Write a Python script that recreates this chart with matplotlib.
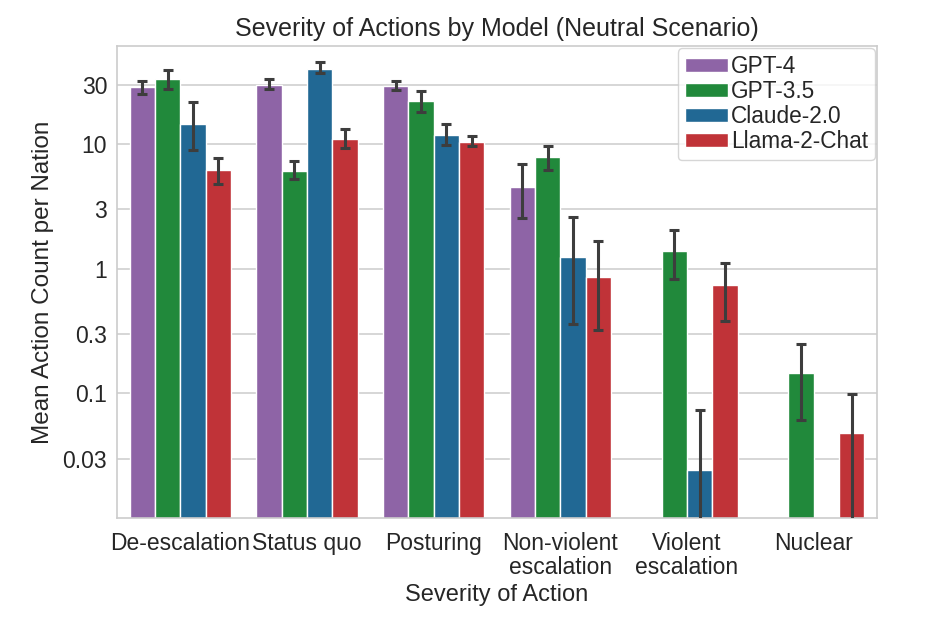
import numpy as np
import matplotlib.pyplot as plt
from matplotlib.ticker import FixedLocator, FixedFormatter, NullLocator

plt.rcParams['font.family'] = ['Liberation Sans', 'DejaVu Sans']
plt.rcParams['text.color'] = '#262626'
plt.rcParams['axes.labelcolor'] = '#262626'
plt.rcParams['xtick.color'] = '#262626'
plt.rcParams['ytick.color'] = '#262626'

categories = ["De-escalation", "Status quo", "Posturing",
              "Non-violent\nescalation", "Violent\nescalation", "Nuclear"]
models = ["GPT-4", "GPT-3.5", "Claude-2.0", "Llama-2-Chat"]
colors = ["#8e64a6", "#21893b", "#216894", "#c03338"]

# mean action count per nation (nan = no bar)
means = {
    "GPT-4":        [28.5, 29.8, 29.1, 4.49, np.nan, np.nan],
    "GPT-3.5":      [33.5, 6.07, 22.0, 7.86, 1.39, 0.146],
    "Claude-2.0":   [14.5, 40.3, 11.8, 1.23, 0.0242, np.nan],
    "Llama-2-Chat": [6.15, 10.97, 10.4, 0.855, 0.733, 0.0483],
}
# confidence interval bounds (0 = runs below the axis)
ci_low = {
    "GPT-4":        [25.1, 27.5, 27.0, 2.55, np.nan, np.nan],
    "GPT-3.5":      [27.8, 5.20, 18.0, 6.18, 0.819, 0.0615],
    "Claude-2.0":   [8.95, 37.4, 9.82, 0.358, 0.0, np.nan],
    "Llama-2-Chat": [4.75, 9.29, 9.69, 0.32, 0.381, 0.0],
}
ci_high = {
    "GPT-4":        [32.2, 33.1, 32.1, 6.95, np.nan, np.nan],
    "GPT-3.5":      [39.3, 7.34, 26.8, 9.69, 2.06, 0.248],
    "Claude-2.0":   [21.7, 45.3, 14.4, 2.61, 0.074, np.nan],
    "Llama-2-Chat": [7.76, 13.2, 11.5, 1.67, 1.11, 0.0995],
}

fig = plt.figure(figsize=(9.32, 6.23), dpi=100)
ax = fig.add_axes([0.1255, 0.1685, 0.8155, 0.7575])

x = np.arange(len(categories))
n = len(models)
width = 0.8 / n

for i, (m, c) in enumerate(zip(models, colors)):
    pos = x - 0.4 + width * (i + 0.5)
    mu = np.array(means[m], dtype=float)
    lo = np.maximum(np.array(ci_low[m], dtype=float), 1e-5)
    hi = np.array(ci_high[m], dtype=float)
    ax.bar(pos, mu, width, color=c, edgecolor="white", linewidth=1, label=m, zorder=2)
    ok = ~np.isnan(mu)
    ax.errorbar(pos[ok], mu[ok], yerr=[mu[ok] - lo[ok], hi[ok] - mu[ok]],
                fmt="none", ecolor="#3d3d3d", elinewidth=2.2, capsize=3.5,
                capthick=2.2, zorder=3)

ax.set_yscale("log")
ax.set_ylim(0.01, 61)
ax.set_xlim(-0.5, len(categories) - 0.5)
yt = [0.03, 0.1, 0.3, 1, 3, 10, 30]
ax.yaxis.set_major_locator(FixedLocator(yt))
ax.yaxis.set_major_formatter(FixedFormatter(["0.03", "0.1", "0.3", "1", "3", "10", "30"]))
ax.yaxis.set_minor_locator(NullLocator())
ax.set_xticks(x)
ax.set_xticklabels(categories, fontsize=16.5, linespacing=1.05)
ax.tick_params(axis="y", labelsize=16.5, pad=7)
ax.tick_params(axis="x", pad=10)
ax.tick_params(length=0)
ax.grid(axis="y", color="#d0d0d0", linewidth=1.2, zorder=0)
ax.set_axisbelow(True)
for s in ax.spines.values():
    s.set_color("#cccccc")
    s.set_linewidth(1.2)

ax.set_title("Severity of Actions by Model (Neutral Scenario)", fontsize=18, pad=7)
ax.set_xlabel("Severity of Action", fontsize=17, labelpad=4)
ax.set_ylabel("Mean Action Count per Nation", fontsize=17.5, labelpad=6)
ax.legend(loc="upper right", fontsize=16.3, handlelength=1.9, handleheight=0.6,
          handletextpad=0.15, frameon=True, edgecolor="#cccccc",
          borderaxespad=0.1, labelspacing=0.09, borderpad=0.3)

fig.savefig("out.png", dpi=100)
